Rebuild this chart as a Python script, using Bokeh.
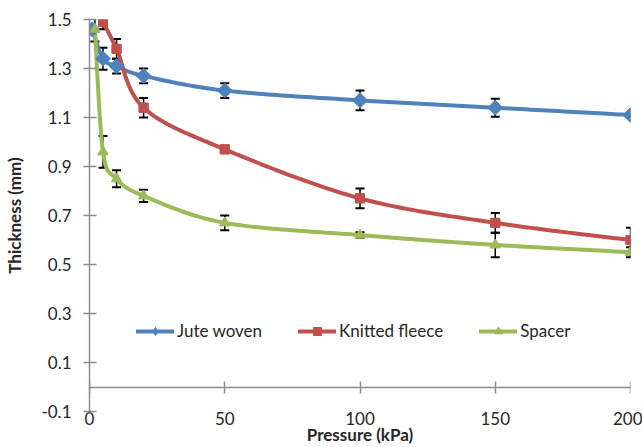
import math
import numpy as np
from bokeh.plotting import figure
from bokeh.models import (Range1d, FixedTicker, LinearAxis, Whisker, TeeHead, ColumnDataSource,
                          Legend, LegendItem, PrintfTickFormatter)
from bokeh.embed import file_html
from bokeh.resources import INLINE

# ---- data ----
x_ticks = [0, 50, 100, 150, 200]
y_ticks = [-0.1, 0.1, 0.3, 0.5, 0.7, 0.9, 1.1, 1.3, 1.5]

jute_x = [1, 5, 10, 20, 50, 100, 150, 200]
jute_y = [1.46, 1.34, 1.31, 1.27, 1.21, 1.17, 1.14, 1.11]
jute_err = [0.0, 0.045, 0.03, 0.03, 0.03, 0.04, 0.037, 0.0]

fleece_x = [5, 10, 20, 50, 100, 150, 200]
fleece_y = [1.49, 1.38, 1.14, 0.97, 0.77, 0.67, 0.60]
fleece_err = [0.03, 0.04, 0.04, 0.01, 0.04, 0.04, 0.05]

spacer_x = [2, 5, 10, 20, 50, 100, 150, 200]
spacer_y = [1.46, 0.96, 0.85, 0.78, 0.67, 0.62, 0.58, 0.55]
spacer_err = [0.05, 0.065, 0.035, 0.025, 0.03, 0.012, 0.05, 0.02]

names = ["Jute woven", "Knitted fleece", "Spacer"]
colors = ["#4F81BD", "#C0504D", "#9BBB59"]

FONT = "Lato"
TXT = "#262626"
AX = "#8f8a86"


def smooth(xs, ys, sx=2.705, sy=245.0, n=30):
    px = np.array(xs, float) * sx
    py = np.array(ys, float) * sy
    ox, oy = [], []
    m = len(px)
    for i in range(m - 1):
        i0 = max(i - 1, 0)
        i3 = min(i + 2, m - 1)
        c1x = px[i] + (px[i + 1] - px[i0]) / 6.0
        c1y = py[i] + (py[i + 1] - py[i0]) / 6.0
        c2x = px[i + 1] - (px[i3] - px[i]) / 6.0
        c2y = py[i + 1] - (py[i3] - py[i]) / 6.0
        t = np.linspace(0, 1, n)
        bx = (1 - t) ** 3 * px[i] + 3 * (1 - t) ** 2 * t * c1x + 3 * (1 - t) * t ** 2 * c2x + t ** 3 * px[i + 1]
        by = (1 - t) ** 3 * py[i] + 3 * (1 - t) ** 2 * t * c1y + 3 * (1 - t) * t ** 2 * c2y + t ** 3 * py[i + 1]
        ox.extend(bx.tolist())
        oy.extend(by.tolist())
    return np.array(ox) / sx, np.array(oy) / sy


p = figure(width=642, height=447, x_range=Range1d(0, 200), y_range=Range1d(-0.1, 1.5),
           output_backend="svg", toolbar_location=None,
           min_border_left=89, min_border_right=12, min_border_top=19, min_border_bottom=36)
p.outline_line_color = None
p.xgrid.visible = False
p.ygrid.visible = False
p.background_fill_color = "white"
p.border_fill_color = "white"

# y axis
ya = p.yaxis[0]
ya.ticker = FixedTicker(ticks=y_ticks)
ya.formatter = PrintfTickFormatter(format="%.1f")
ya.minor_tick_line_color = None
ya.axis_line_color = AX
ya.axis_line_width = 1.5
ya.major_tick_line_color = AX
ya.major_tick_line_width = 1.5
ya.major_tick_in = 7
ya.major_tick_out = 6
ya.major_label_standoff = 12
ya.major_label_text_font = FONT
ya.major_label_text_font_size = "17px"
ya.major_label_text_color = TXT
ya.axis_label = "Thickness (mm)"
ya.axis_label_text_font = FONT
ya.axis_label_text_font_style = "bold"
ya.axis_label_text_font_size = "17px"
ya.axis_label_text_color = TXT
ya.axis_label_standoff = 13

# x axis labels (bottom)
xa = p.xaxis[0]
xa.ticker = FixedTicker(ticks=x_ticks)
xa.minor_tick_line_color = None
xa.axis_line_color = None
xa.major_tick_line_color = None
xa.major_tick_in = 0
xa.major_tick_out = 0
xa.major_label_standoff = 0
xa.major_label_text_font = FONT
xa.major_label_text_font_size = "17px"
xa.major_label_text_color = TXT
xa.axis_label = "Pressure (kPa)"
xa.axis_label_text_font = FONT
xa.axis_label_text_font_style = "bold"
xa.axis_label_text_font_size = "17px"
xa.axis_label_text_color = TXT
xa.axis_label_standoff = -4

# x axis line crossing at y = 0
x0 = LinearAxis(fixed_location=0, ticker=FixedTicker(ticks=x_ticks))
x0.minor_tick_line_color = None
x0.axis_line_color = AX
x0.axis_line_width = 1.5
x0.major_tick_line_color = AX
x0.major_tick_line_width = 1.5
x0.major_tick_in = 6
x0.major_tick_out = 6
x0.major_label_text_font_size = "0px"
x0.major_label_text_alpha = 0
p.add_layout(x0, "below")

series = [(jute_x, jute_y, jute_err), (fleece_x, fleece_y, fleece_err), (spacer_x, spacer_y, spacer_err)]
markers = [("square", 10.5, math.pi / 4), ("square", 9, 0), ("triangle", 10, 0)]
legend_markers = [("diamond", 13), ("square", 9), ("triangle", 10)]

line_r = []
for (xs, ys, es), c in zip(series, colors):
    sx_, sy_ = smooth(xs, ys)
    line_r.append(p.line(sx_, sy_, line_color=c, line_width=4, line_join="round", line_cap="round"))

for (xs, ys, es) in series:
    bx = [x for x, e in zip(xs, es) if e > 0]
    by = [y for y, e in zip(ys, es) if e > 0]
    be = [e for e in es if e > 0]
    src = ColumnDataSource(dict(x=bx, up=[y + e for y, e in zip(by, be)], lo=[y - e for y, e in zip(by, be)]))
    w = Whisker(base="x", upper="up", lower="lo", source=src, line_color="black", line_width=1.5,
                upper_head=TeeHead(size=9, line_color="black", line_width=2),
                lower_head=TeeHead(size=9, line_color="black", line_width=2))
    p.add_layout(w)

# legend-glyph markers (drawn underneath the visible markers)
leg_r = []
for (xs, ys, es), c, (mk, sz) in zip(series, colors, legend_markers):
    leg_r.append(p.scatter(xs, ys, marker=mk, size=sz, fill_color=c, line_color=c))

for (xs, ys, es), c, (mk, sz, ang) in zip(series, colors, markers):
    p.scatter(xs, ys, marker=mk, size=sz, angle=ang, fill_color=c, line_color=c)

items = [LegendItem(label=n, renderers=[l, m]) for n, l, m in zip(names, line_r, leg_r)]
legend = Legend(items=items, orientation="horizontal", location=(47, 70),
                border_line_color=None, background_fill_alpha=0, padding=0, margin=0,
                spacing=36, glyph_width=38, glyph_height=20, label_standoff=3,
                label_text_font=FONT, label_text_font_size="17px", label_text_color=TXT)
p.add_layout(legend, "center")

open("out.html", "w").write(file_html(p, INLINE))
